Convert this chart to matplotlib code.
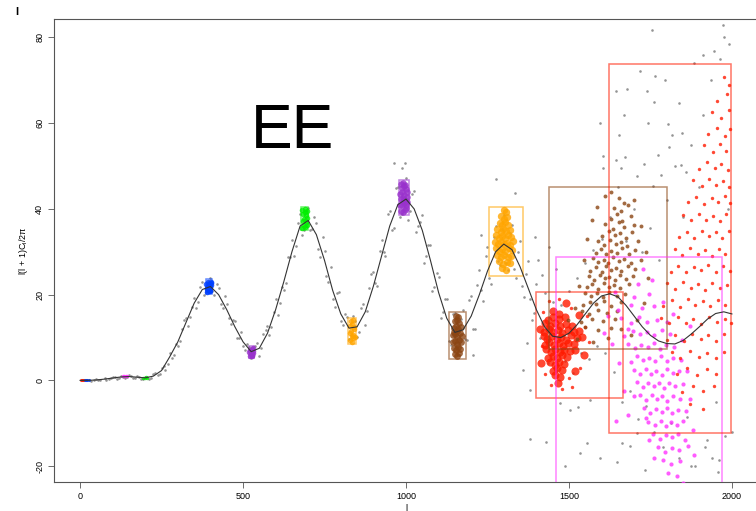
import matplotlib
matplotlib.use("Agg")
import matplotlib.pyplot as plt
from matplotlib.patches import Rectangle

plt.rcParams['font.family'] = ['Liberation Sans', 'DejaVu Sans']
plt.rcParams['mathtext.default'] = 'regular'

# theory curve, read every 25 in l
curve_l = list(range(0, 2001, 25))
curve_v = [0, 0.02, 0.1, 0.3, 0.55, 0.8, 0.9, 0.75, 0.6, 1.0, 2.3, 5.5, 9, 13.5, 18, 21.2, 21.9,
           20, 16.5, 12.5, 9, 6.7, 7.5, 11, 16.5, 23, 30, 36, 37.3, 34, 28, 21, 15.5, 12.2, 12.5,
           16, 22, 29, 36, 41, 42.3, 40, 35, 28, 20.5, 14.5, 11.2, 11.8, 15, 20, 25.5, 30, 31.8,
           30.5, 26.5, 21.5, 16.5, 12.5, 10.3, 10, 11, 13, 15.5, 18, 19.7, 20.2, 19.5, 17.5, 15,
           12.5, 10.5, 9.2, 8.6, 8.5, 9.3, 10.8, 12.5, 14.3, 15.6, 16, 15.5]

# simulated spectra (grey)
gray_l = [20, 35, 50, 62, 75, 88, 100, 112, 125, 138, 150, 162, 175, 188, 200, 212, 225, 238, 250, 262,
          275, 287, 300, 312, 325, 337, 350, 362, 375, 387, 400, 412, 425, 437, 450, 462, 475, 487, 500, 512,
          525, 537, 550, 562, 575, 587, 600, 612, 625, 637, 650, 662, 675, 687, 700, 712, 725, 737, 750, 762,
          775, 787, 800, 812, 825, 837, 850, 862, 875, 887, 900, 912, 925, 937, 950, 962, 975, 987, 1000, 1012,
          1025, 1037, 1050, 1062, 1075, 1087, 1100, 1112, 1125, 1137, 1150, 1162, 1175, 1187, 1200, 1212,
          1225, 1237, 1250, 1262, 1275, 1287, 1300, 1312, 1325, 1337, 1350, 1362, 1375, 1387, 1400, 1412,
          1425, 1437, 1450, 1462, 1475, 1487, 1500, 1512, 1525, 1537, 1550, 1562, 1575, 1587, 1600, 1612,
          1625, 1637, 1650, 1662, 1675, 1687, 1700, 1712, 1725, 1737, 1750, 1762, 1775, 1787, 1800,
          1812, 1825, 1837, 1850, 1862, 1875, 1887, 1900, 1912, 1925, 1937, 1950, 1962, 1975, 1987, 2000,
          1755, 1972, 1991, 1944, 1911, 1883, 1718, 1764, 1795, 1645, 1678, 1740, 1761, 1838, 1596, 1669,
          1743, 1804, 1654, 1816, 1847, 1807, 1605, 1672, 1773, 1645, 1605, 1660, 1730, 1844, 1709, 1783,
          1859, 1758, 1381, 1430, 1489, 1534, 1555, 1596, 1647, 1662, 1688, 1708, 1733, 1504, 1473, 1529,
          1565, 1381, 1360, 1372, 1917, 1939, 1960, 1957, 1874, 1978, 1405, 1418, 1440, 1460, 1395, 1277,
          1335, 962, 998, 989, 1230, 1205,
          # second pass along the curve
          28, 44, 56, 81, 94, 106, 119, 131, 144, 156, 169, 181, 194, 206, 219, 231, 244, 256, 269,
          281, 294, 306, 319, 331, 344, 356, 369, 381, 394, 406, 419, 431, 444, 456, 469, 481, 494, 506,
          519, 531, 544, 556, 569, 581, 594, 606, 619, 631, 644, 656, 669, 681, 694, 706, 719, 731, 744, 756,
          769, 781, 794, 806, 819, 831, 844, 856, 869, 881, 894, 906, 919, 931, 944, 956, 969, 981, 994, 1006,
          1019, 1031, 1044, 1056, 1069, 1081, 1094, 1106, 1119, 1131, 1144, 1156, 1169, 1181, 1194, 1206,
          1219, 1231, 1244, 1256, 1269, 1281, 1294, 1306, 1319, 1331, 1344, 1356, 1369, 1381, 1394]
gray_v = [0.1, -0.1, 0.3, 0.0, 0.5, 0.3, 0.9, 0.4, 1.1, 0.6, 1.2, 0.5, 1.0, 0.3, 0.9, 0.3, 1.5, 1.2, 2.9, 2.5,
          6.4, 6.0, 8.1, 12.0, 14.5, 14.9, 19.3, 18.4, 23.0, 20.6, 23.8, 20.0, 21.6, 17.0, 17.8, 13.2, 13.9, 9.8, 8.0, 8.6,
          5.2, 8.1, 5.6, 10.9, 12.8, 12.5, 18.9, 18.1, 21.2, 28.8, 32.7, 31.3, 38.8, 35.0, 40.1, 35.2, 36.6, 28.9, 30.1, 23.0,
          19.0, 20.4, 13.8, 15.6, 9.6, 15.0, 10.2, 16.8, 12.9, 21.5, 25.4, 22.1, 32.8, 29.0, 39.5, 35.6, 45.0, 38.7, 47.2, 39.5,
          44.1, 35.9, 38.6, 29.0, 31.5, 21.8, 24.2, 16.0, 19.0, 8.2, 15.8, 6.0, 16.5, 9.4, 19.8, 12.1,
          25.7, 18.5, 31.0, 22.4, 36.0, 27.0, 38.5, 25.8, 36.2, 24.0, 32.5, 19.4, 27.8, 14.2, 22.5, 10.0,
          20.5, 4.0, 18.2, 2.5, 17.5, 4.6, 20.8, 1.8, 24.0, 6.5, 27.5, 5.0, 30.5, 8.0, 33.0, 6.5,
          38.0, 2.0, 45.0, -5.0, 32.5, -2.5, 40.0, -9.0, 30.0, -6.0, 35.5, -12.0, 28.0, -15.5, 42.0,
          -10.0, 50.0, -18.0, 38.0, -8.5, 55.0, -20.0, 45.0, 62.0, -14.0, 70.0, -5.0, 75.0, 80.0, 40.0, -12.0,
          81.7, 82.8, 78.5, 76.8, 75.9, 74.0, 72.1, 71.0, 70.0, 67.5, 68.0, 67.5, 65.0, 64.7, 60.0, 62.0,
          60.0, 59.8, 57.2, 57.2, 57.7, 54.4, 52.3, 52.0, 52.5, 51.4, 49.5, 49.5, 50.5, 50.3, 47.7, 48.0,
          48.7, 45.3, -13.6, -14.3, -20.0, -17.0, -14.6, -18.0, -19.0, -14.6, -15.3, -12.3, -20.9, -6.9, -5.3, -6.1,
          -4.5, -2.2, 2.5, 8.7, -15.5, -18.0, -18.5, -21.3, -20.0, -13.0, 28.0, 24.5, 31.0, 26.0, 33.5, 47.0,
          43.7, 50.7, 50.7, 49.5, 34.0, 6.0,
          0.0, 0.2, 0.0, 0.2, 0.6, 0.8, 0.5, 0.9, 0.7, 1.1, 0.6, 0.9, 0.4, 0.8, 0.5, 1.8, 1.6, 3.3, 3.9,
          5.2, 8.6, 9.3, 14.0, 12.8, 17.2, 17.0, 21.8, 20.0, 23.1, 20.9, 22.6, 17.9, 19.6, 14.6, 14.2, 10.0, 11.2, 7.0,
          7.9, 5.6, 8.7, 7.6, 11.8, 10.5, 16.0, 15.3, 21.9, 22.7, 28.9, 29.1, 36.7, 33.9, 39.5, 35.1, 38.2, 30.6, 33.4, 24.4,
          26.5, 17.1, 20.6, 12.9, 14.9, 10.5, 13.8, 11.4, 17.8, 16.2, 24.9, 22.7, 30.2, 30.0, 38.9, 35.1, 44.9, 38.0, 45.8, 37.5,
          43.4, 34.5, 36.9, 27.3, 31.6, 20.9, 25.1, 14.6, 18.9, 9.2, 15.4, 7.9, 14.4, 9.6, 18.7, 11.9,
          22.3, 21.0, 29.0, 23.8, 33.5, 27.8, 35.2, 27.4, 34.3, 25.9, 30.0, 22.1, 24.9, 19.0, 15.7]

# coloured clusters
red0_l = [2, 5, 8, 11]
red0_v = [0.0, 0.02, 0.0, 0.03]
blue0_l = [14, 18, 22, 26]
blue0_v = [0.03, 0.05, 0.04, 0.06]
mag0_l = [132, 136, 140, 144]
mag0_v = [1.0, 1.1, 1.05, 1.0]
green0_l = [194, 198, 202, 206]
green0_v = [0.6, 0.65, 0.7, 0.6]

blue_l = [388, 392, 396, 400, 389, 394, 399, 403, 387, 391, 397, 402, 390, 395, 398, 401]
blue_v = [20.6, 21.0, 20.8, 21.2, 21.6, 22.0, 21.8, 22.2, 22.6, 22.9, 22.4, 23.0, 21.3, 22.5, 20.9, 22.7]

purple1_l = [520, 524, 528, 531, 522, 526, 530, 519, 527, 532]
purple1_v = [5.8, 6.2, 5.7, 6.4, 7.0, 7.4, 6.9, 6.6, 6.0, 7.5]

green_l = [682, 686, 690, 695, 683, 688, 693, 697, 684, 689, 694, 681, 691, 696]
green_v = [35.6, 36.1, 35.8, 36.3, 37.2, 37.6, 37.0, 37.9, 38.7, 39.2, 38.5, 39.8, 40.0, 39.4]

orange1_l = [828, 833, 838, 842, 827, 832, 837, 841, 829, 835, 840, 831, 836, 834]
orange1_v = [9.5, 9.0, 9.8, 10.2, 11.0, 11.6, 10.7, 11.9, 12.8, 13.2, 12.5, 13.9, 14.0, 10.3]

purple2_l = [984, 990, 996, 1001, 982, 988, 994, 1000, 1004, 985, 991, 997, 1003, 983, 989, 995, 1002,
             987, 993, 999, 986, 992, 998, 990]
purple2_v = [39.5, 39.2, 39.8, 40.2, 41.0, 40.8, 41.3, 40.9, 41.5, 42.2, 42.6, 42.0, 42.8, 43.4, 43.9, 43.2,
             44.0, 44.8, 45.3, 44.6, 45.8, 46.0, 45.6, 41.8]

brown1_l = [1150, 1157, 1163, 1146, 1153, 1160, 1167, 1143, 1149, 1156, 1162, 1169, 1145, 1151, 1158, 1165,
            1172, 1147, 1154, 1161, 1168, 1150, 1157, 1164, 1152, 1159, 1155, 1148]
brown1_v = [6.2, 5.8, 6.5, 7.5, 7.2, 7.8, 7.4, 8.9, 9.2, 8.6, 9.4, 9.0, 10.5, 10.8, 10.2, 11.0, 10.4, 12.2,
            12.6, 12.0, 12.4, 13.8, 14.2, 13.5, 15.0, 14.8, 11.5, 11.2]

orange2_l = [1300, 1306, 1292, 1300, 1310, 1287, 1296, 1304, 1314, 1280, 1290, 1299, 1308, 1318,
             1276, 1285, 1294, 1303, 1312, 1322, 1272, 1282, 1291, 1300, 1309, 1318, 1328,
             1275, 1286, 1296, 1305, 1315, 1326, 1280, 1291, 1302, 1312, 1323, 1285, 1298, 1310, 1320,
             1294, 1306]
orange2_v = [39.8, 39.2, 38.3, 37.7, 38.1, 36.8, 36.2, 36.9, 36.3, 35.3, 34.7, 35.2, 34.8, 35.1,
             33.8, 33.2, 33.7, 33.3, 33.9, 33.4, 32.2, 31.7, 32.3, 31.8, 32.1, 31.6, 32.4,
             30.8, 30.2, 30.7, 30.3, 30.9, 30.4, 29.3, 28.7, 29.2, 28.8, 29.1, 27.8, 27.2, 27.7, 27.3,
             26.2, 25.8]

red1_l = [1450, 1468, 1436, 1452, 1470, 1488, 1428, 1442, 1458, 1474, 1492, 1510,
          1424, 1438, 1452, 1466, 1480, 1496, 1514, 1532, 1422, 1434, 1448, 1462, 1476, 1490, 1506, 1524, 1540,
          1426, 1440, 1454, 1468, 1482, 1498, 1516, 1430, 1444, 1458, 1472, 1486, 1502, 1520,
          1436, 1450, 1464, 1478, 1494, 1442, 1456, 1470, 1486, 1450, 1464, 1480, 1458, 1474, 1466,
          1412, 1545, 1530, 1415, 1520, 1490]
red1_v = [16.3, 15.6, 14.2, 14.9, 14.4, 14.7, 13.3, 12.6, 13.4, 12.7, 13.2, 12.8,
          11.2, 11.9, 11.3, 11.8, 11.1, 11.7, 11.4, 11.6, 10.3, 9.6, 10.4, 9.7, 10.2, 9.5, 10.5, 9.8, 10.1,
          8.2, 8.9, 8.3, 8.8, 8.1, 8.7, 8.4, 7.3, 6.6, 7.4, 6.7, 7.2, 6.8, 7.1,
          5.2, 5.8, 5.3, 5.9, 5.4, 4.3, 3.7, 4.2, 3.8, 2.2, 2.8, 2.4, 1.3, 0.7, -0.6,
          12.0, 6.0, 15.2, 4.0, 2.1, 18.0]
red1_edge_l = [1418, 1420, 1440, 1470, 1505, 1550, 1560, 1535, 1500, 1480, 1445, 1428, 1555, 1510]
red1_edge_v = [8.0, 16.0, 18.5, 19.0, 16.8, 12.5, 9.0, 3.0, 0.5, -2.0, -1.0, 1.5, 15.0, -1.5]

brown2_l = [1652, 1668, 1638, 1660, 1682, 1628, 1646, 1664, 1690, 1612, 1634, 1652, 1670, 1700,
            1600, 1622, 1640, 1656, 1674, 1694, 1590, 1608, 1626, 1644, 1660, 1678, 1712,
            1582, 1598, 1614, 1630, 1646, 1662, 1684, 1704, 1574, 1590, 1606, 1620, 1636, 1652, 1668, 1690, 1720,
            1566, 1584, 1600, 1614, 1628, 1644, 1660, 1680, 1702, 1560, 1578, 1594, 1610, 1624, 1640, 1656, 1676, 1696,
            1556, 1572, 1590, 1606, 1622, 1638, 1658, 1684, 1550, 1568, 1586, 1604, 1624, 1646, 1672,
            1544, 1564, 1584, 1606, 1630, 1660, 1540, 1562, 1588, 1616, 1648, 1536, 1572, 1604, 1640,
            1548, 1590, 1628,
            1520, 1525, 1532, 1545, 1555, 1570, 1585, 1610, 1630, 1700, 1720, 1735, 1742, 1730, 1710,
            1690, 1660, 1620, 1575, 1498]
brown2_v = [42.6, 41.4, 40.3, 39.5, 40.8, 37.6, 38.7, 37.2, 38.4, 36.5, 35.4, 36.9, 35.8, 36.2,
            33.6, 34.8, 33.9, 34.4, 33.3, 34.7, 32.4, 31.5, 32.8, 31.7, 32.2, 31.3, 32.6,
            29.7, 30.6, 29.4, 30.3, 29.8, 30.9, 29.5, 30.4, 28.5, 27.6, 28.2, 27.3, 28.8, 27.9, 28.4, 27.5, 28.1,
            25.6, 26.4, 25.3, 26.7, 25.8, 26.2, 25.5, 26.6, 25.9, 24.4, 23.5, 24.7, 23.8, 24.2, 23.4, 24.6, 23.7, 24.3,
            21.7, 22.5, 21.4, 22.8, 21.9, 22.3, 21.6, 22.6, 20.5, 19.6, 20.3, 19.4, 20.7, 19.8, 20.2,
            17.6, 18.4, 17.8, 18.6, 17.4, 18.2, 16.3, 15.6, 16.5, 15.7, 16.1, 13.6, 14.4, 13.8, 14.3,
            12.4, 11.7, 12.2,
            16.8, 9.6, 22.0, 28.0, 33.0, 37.5, 40.5, 43.0, 44.0, 42.0, 36.0, 30.0, 24.0, 18.0, 14.0,
            10.5, 12.0, 10.0, 9.0, 14.0]

mag2_l = [1640, 1700, 1745, 1650, 1690, 1725, 1760, 1660, 1690, 1715, 1740, 1770, 1800,
          1670, 1695, 1718, 1740, 1762, 1785, 1810, 1680, 1702, 1722, 1742, 1760, 1778, 1798, 1822,
          1690, 1710, 1728, 1746, 1764, 1782, 1800, 1820, 1845, 1700, 1718, 1736, 1752, 1768, 1784, 1800, 1818, 1838,
          1708, 1726, 1744, 1760, 1776, 1792, 1808, 1826, 1850, 1718, 1736, 1754, 1770, 1786, 1802, 1820, 1840,
          1730, 1750, 1768, 1784, 1800, 1816, 1834, 1860, 1744, 1764, 1782, 1798, 1814, 1830, 1850,
          1758, 1780, 1798, 1816, 1834, 1856, 1772, 1796, 1816, 1838, 1864, 1790, 1814, 1840, 1804, 1830,
          1620, 1632, 1655, 1668, 1680, 1712, 1735, 1755, 1790, 1820, 1848, 1862, 1870, 1880, 1885,
          1760, 1745, 1830, 1700, 1682, 1872, 1850, 1726, 1606, 1645]
mag2_v = [20.6, 19.4, 20.2, 16.4, 17.5, 16.8, 17.3, 14.5, 13.4, 14.8, 13.7, 14.2, 13.6,
          10.4, 11.6, 10.8, 11.3, 10.5, 11.7, 10.9, 8.6, 7.5, 8.3, 7.7, 8.8, 7.4, 8.2, 7.8,
          4.4, 5.6, 4.7, 5.3, 4.5, 5.8, 4.6, 5.2, 4.8, 2.5, 1.4, 2.7, 1.6, 2.3, 1.3, 2.6, 1.8, 2.2,
          -0.4, -1.6, -0.7, -1.3, -0.5, -1.8, -0.6, -1.2, -0.8, -3.5, -4.6, -3.3, -4.4, -3.7, -4.8, -3.6, -4.3,
          -6.4, -7.5, -6.7, -7.3, -6.5, -7.7, -6.8, -7.2, -9.6, -10.5, -9.4, -10.7, -9.8, -10.3, -9.5,
          -12.4, -13.6, -12.7, -13.3, -12.5, -13.8, -15.5, -16.6, -15.8, -16.3, -15.4, -18.6, -19.5, -18.8, -21.5, -22.4,
          15.0, 8.5, 4.0, -2.5, 12.0, 22.5, -8.8, 23.4, 18.2, 15.6, 9.4, 2.1, -4.3, -11.6, -17.5,
          -18.2, -14.0, -25.0, -3.6, -8.1, 12.8, -24.0, 26.0, 11.0, -9.5]

red2_l = [1975, 1992, 1955, 1985, 1940, 1968, 1990, 1928, 1955, 1978, 1994, 1915, 1942, 1962, 1982,
          1900, 1925, 1948, 1968, 1988, 1880, 1908, 1930, 1952, 1972, 1992, 1865, 1890, 1915, 1938, 1958, 1978, 1995,
          1850, 1875, 1898, 1920, 1942, 1962, 1982, 1838, 1862, 1885, 1908, 1930, 1950, 1970, 1990,
          1825, 1848, 1872, 1895, 1918, 1940, 1960, 1980, 1812, 1836, 1860, 1884, 1906, 1928, 1950, 1972, 1993,
          1800, 1825, 1850, 1874, 1896, 1918, 1940, 1962, 1984, 1790, 1815, 1840, 1864, 1888, 1910, 1934, 1958, 1980,
          1782, 1808, 1834, 1858, 1882, 1906, 1930, 1954, 1978, 1996, 1800, 1826, 1852, 1878, 1904, 1928, 1952, 1976,
          1815, 1842, 1870, 1898, 1924, 1950, 1975, 1830, 1862, 1892, 1922, 1950, 1848, 1880, 1912, 1944, 1870, 1910]
red2_v = [70.8, 68.9, 65.2, 66.9, 62.7, 61.3, 63.1, 57.4, 58.9, 57.1, 58.6, 54.8, 53.3, 55.1, 53.6,
          49.2, 50.9, 49.6, 50.5, 49.0, 46.7, 45.3, 46.9, 45.6, 46.4, 45.1, 41.5, 42.8, 41.2, 42.6, 41.7, 42.9, 41.4,
          38.6, 37.3, 38.9, 37.5, 38.4, 37.2, 38.7, 33.4, 34.7, 33.2, 34.9, 33.6, 34.5, 33.1, 34.8,
          30.6, 29.3, 30.9, 29.5, 30.4, 29.1, 30.7, 29.6, 25.4, 26.8, 25.2, 26.5, 25.7, 26.9, 25.3, 26.6, 25.5,
          22.7, 21.3, 22.9, 21.5, 22.4, 21.2, 22.8, 21.6, 22.3, 17.4, 18.7, 17.2, 18.9, 17.6, 18.5, 17.3, 18.8, 17.5,
          14.6, 13.3, 14.9, 13.5, 14.4, 13.2, 14.7, 13.6, 14.3, 13.4, 9.4, 10.7, 9.2, 10.9, 9.6, 10.5, 9.3, 10.8,
          6.7, 5.3, 6.9, 5.5, 6.4, 5.2, 6.6, 1.4, 2.8, 1.2, 2.6, 1.5, -2.7, -1.3, -2.5, -1.4, -5.4, -6.7]

# boxes: l_min, l_max, v_min, v_max
box_blue = (385, 405, 20.2, 23.6)
box_purple1 = (517, 534, 5.3, 8.0)
box_green = (679, 699, 35.1, 40.4)
box_orange1 = (822, 848, 8.4, 14.6)
box_purple2 = (977, 1008, 38.5, 46.7)
box_brown1 = (1133, 1185, 5.0, 16.0)
box_orange2 = (1256, 1360, 24.4, 40.4)
box_red1 = (1400, 1666, -4.1, 20.6)
box_brown2 = (1440, 1801, 7.3, 45.1)
box_mag2 = (1461, 1969, -30.0, 28.8)
box_red2 = (1623, 1997, -12.2, 73.8)

RED = '#ff1a00'
MAGENTA = '#ff33ff'
BROWN = '#8b4513'
ORANGE = '#ffa500'
PURPLE = '#9932cc'
GREEN = '#00ee00'
BLUE = '#0040ff'

clusters = [
    (red0_l, red0_v, RED, 5, None),
    (blue0_l, blue0_v, BLUE, 5, None),
    (mag0_l, mag0_v, MAGENTA, 6, None),
    (green0_l, green0_v, GREEN, 6, None),
    (blue_l, blue_v, BLUE, 16, box_blue),
    (purple1_l, purple1_v, PURPLE, 16, box_purple1),
    (green_l, green_v, GREEN, 16, box_green),
    (orange1_l, orange1_v, ORANGE, 16, box_orange1),
    (purple2_l, purple2_v, PURPLE, 22, box_purple2),
    (brown1_l, brown1_v, BROWN, 24, box_brown1),
    (orange2_l, orange2_v, ORANGE, 28, box_orange2),
    (red1_l, red1_v, RED, 34, box_red1),
    (red1_edge_l, red1_edge_v, RED, 6, None),
    (brown2_l, brown2_v, BROWN, 8, box_brown2),
    (mag2_l, mag2_v, MAGENTA, 9, box_mag2),
    (red2_l, red2_v, RED, 6, box_red2),
]

fig = plt.figure(figsize=(7.56, 5.11), dpi=100)
ax = fig.add_axes([54 / 756, 29 / 511, 704 / 756, 463 / 511])

ax.scatter(gray_l, gray_v, s=3.5, color='#7a7a7a', alpha=0.8, linewidths=0, zorder=2)

for l, v, col, size, box in clusters:
    ax.scatter(l, v, s=size, color=col, alpha=0.8, linewidths=0, zorder=3)
for l, v, col, size, box in clusters:
    if box is not None:
        ax.add_patch(Rectangle((box[0], box[2]), box[1] - box[0], box[3] - box[2],
                               fill=False, edgecolor=col, alpha=0.6, linewidth=1.1, zorder=4))

ax.plot(curve_l, curve_v, color='#333333', linewidth=0.8, zorder=5)

ax.text(652, 54.2, 'EE', fontsize=45, ha='center', va='baseline', zorder=6)

ax.set_xlim(-80, 2080)
ax.set_ylim(-23.7, 84.3)
ax.set_xticks([0, 500, 1000, 1500, 2000])
ax.set_yticks([-20, 0, 20, 40, 60, 80])
ax.set_yticklabels(['-20', '0', '20', '40', '60', '80'], rotation=90, va='center')
ax.tick_params(labelsize=6.5, length=4, width=0.6, color='#555555', pad=3)
for sp in ax.spines.values():
    sp.set_color('#555555')
    sp.set_linewidth(0.8)

ax.set_xlabel('l', fontsize=6.5, labelpad=2)
ax.set_ylabel('l(l + 1)C$_l$/2π', fontsize=6.5, labelpad=4)
fig.text(17 / 756, 1 - 12 / 511, 'l', fontsize=8, fontweight='bold', ha='center', va='center')

fig.savefig('out.png', dpi=100)
